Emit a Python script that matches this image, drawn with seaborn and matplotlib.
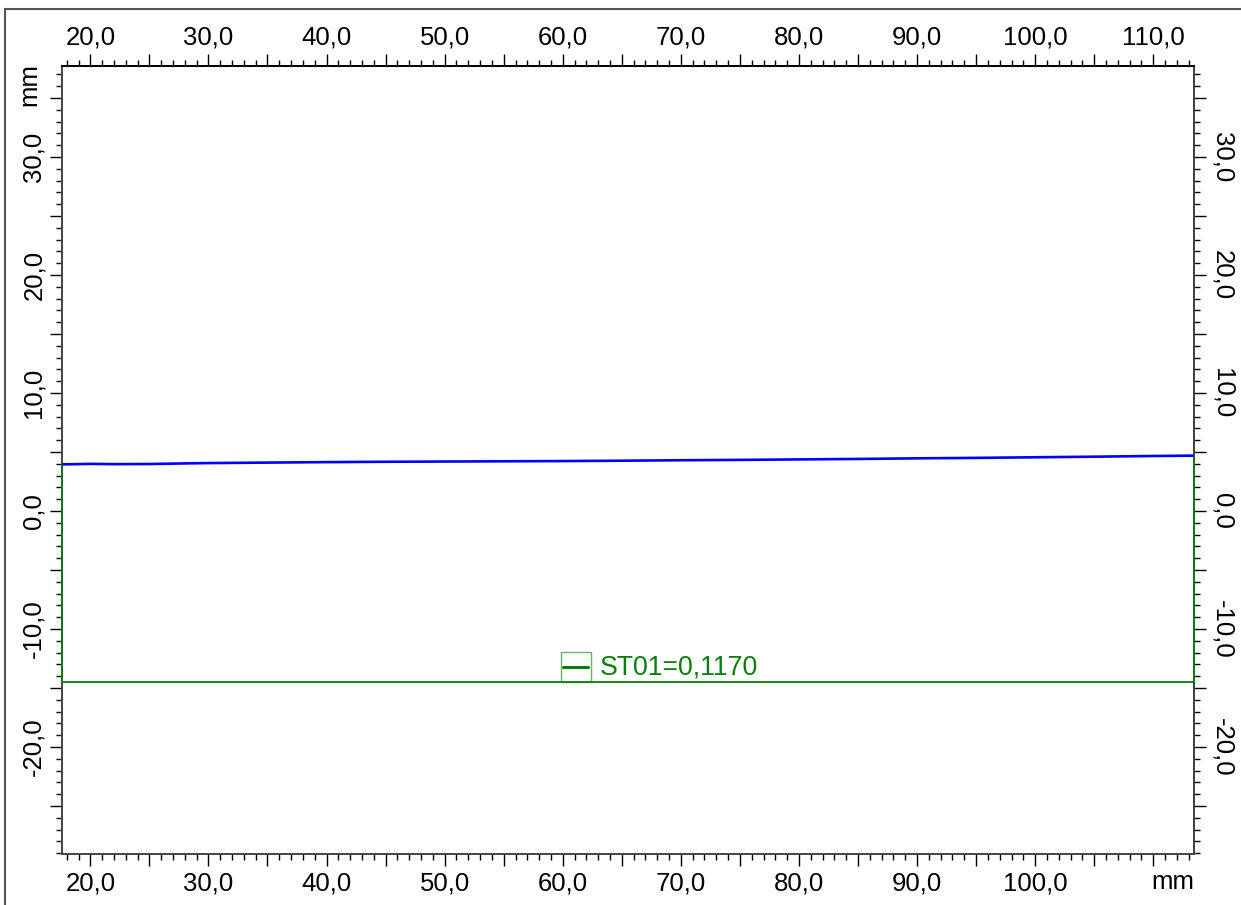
import matplotlib
matplotlib.use("Agg")
import matplotlib.pyplot as plt
from matplotlib.ticker import MultipleLocator, FuncFormatter
from matplotlib.patches import Rectangle
import seaborn as sns
import pandas as pd

# Measured profile (mm)
profile_x = [17.6, 20.0, 22.0, 25.0, 28.0, 30.0, 35.0, 40.0, 45.0, 50.0, 55.0,
             60.0, 65.0, 70.0, 75.0, 80.0, 85.0, 90.0, 95.0, 100.0, 105.0, 110.0, 113.45]
profile_y = [3.95, 3.99, 3.97, 3.98, 4.03, 4.06, 4.10, 4.14, 4.17, 4.19, 4.21,
             4.23, 4.26, 4.30, 4.33, 4.37, 4.41, 4.46, 4.50, 4.55, 4.60, 4.66, 4.69]

# Reference baseline of the evaluation window
baseline_level = -14.47
x_min, x_max = 17.6, 113.45
y_min, y_max = -29.07, 37.71

legend_label = "ST01=0,1170"

sns.set_style("white")
plt.rcParams["font.family"] = ["Liberation Sans", "DejaVu Sans"]
plt.rcParams["text.color"] = "black"
plt.rcParams["xtick.color"] = "black"
plt.rcParams["ytick.color"] = "black"
plt.rcParams["xtick.labelcolor"] = "black"
plt.rcParams["ytick.labelcolor"] = "black"

FONT = 18.5
BLUE = "#0000ff"
GREEN = "#0a7d0a"

fig = plt.figure(figsize=(12.41, 9.05), dpi=100)
ax = fig.add_axes([62 / 1241, 1 - 854 / 905, (1194 - 62) / 1241, (854 - 66) / 905])

df = pd.DataFrame({"x": profile_x, "y": profile_y})
sns.lineplot(data=df, x="x", y="y", ax=ax, color=BLUE, linewidth=1.9,
             sort=False, estimator=None, zorder=4)

# Evaluation window: edges drop to the baseline and run across it
win = pd.DataFrame({
    "x": [profile_x[0], profile_x[0], profile_x[-1], profile_x[-1]],
    "y": [profile_y[0], baseline_level, baseline_level, profile_y[-1]],
})
sns.lineplot(data=win, x="x", y="y", ax=ax, color=GREEN, linewidth=1.3,
             sort=False, estimator=None, zorder=3, clip_on=False)

# Legend entry sitting on the baseline
box_x0, box_x1 = 59.83, 62.37
box_y0, box_y1 = baseline_level, -11.92
ax.add_patch(Rectangle((box_x0, box_y0), box_x1 - box_x0, box_y1 - box_y0,
                       fill=False, edgecolor="#6ab46a", linewidth=1.0))
leg_line = pd.DataFrame({"x": [box_x0 + 0.2, box_x1 - 0.2],
                         "y": [(box_y0 + box_y1) / 2] * 2})
sns.lineplot(data=leg_line, x="x", y="y", ax=ax, color=GREEN, linewidth=2.2,
             sort=False, estimator=None)
ax.text(box_x1 + 0.8, (box_y0 + box_y1) / 2 - 0.1, legend_label, color=GREEN,
        fontsize=19.2, ha="left", va="center")

ax.set_xlim(x_min, x_max)
ax.set_ylim(y_min, y_max)
ax.set_xlabel("")
ax.set_ylabel("")


def fmt(v, _pos=None):
    if abs(v - round(v / 10) * 10) > 1e-6:
        return ""
    return f"{v:.1f}".replace(".", ",")


def fmt_bottom(v, pos=None):
    if abs(v - 110) < 1e-6:
        return ""
    return fmt(v, pos)


tick_kw = dict(color="black", width=1.0)
MAJ = 12 * 0.72
MIN = 6 * 0.72


def style_axis(axis, formatter):
    axis.set_major_locator(MultipleLocator(5))
    axis.set_minor_locator(MultipleLocator(1))
    axis.set_major_formatter(FuncFormatter(formatter))


style_axis(ax.xaxis, fmt_bottom)
style_axis(ax.yaxis, fmt)
ax.tick_params(which="major", direction="out", length=MAJ, pad=4,
               labelsize=FONT, bottom=True, left=True, top=False, right=False,
               **tick_kw)
ax.tick_params(which="minor", direction="out", length=MIN,
               bottom=True, left=True, top=False, right=False, **tick_kw)
ax.tick_params(axis="y", which="major", pad=3)
for lab in ax.get_yticklabels():
    lab.set_rotation(90)
    lab.set_va("center")

sec_x = ax.secondary_xaxis("top")
style_axis(sec_x.xaxis, fmt)
sec_x.tick_params(which="major", direction="out", length=MAJ, pad=3,
                  labelsize=FONT, **tick_kw)
sec_x.tick_params(which="minor", direction="out", length=MIN, **tick_kw)

sec_y = ax.secondary_yaxis("right")
style_axis(sec_y.yaxis, fmt)
sec_y.tick_params(which="major", direction="out", length=MAJ, pad=3,
                  labelsize=FONT, labelrotation=-90, **tick_kw)
sec_y.tick_params(which="minor", direction="out", length=MIN, **tick_kw)
for lab in sec_y.get_yticklabels():
    lab.set_va("center")

for a in (ax, sec_x, sec_y):
    for sp in a.spines.values():
        sp.set_color("#444444")
        sp.set_linewidth(1.4)
ax.spines["top"].set_color("black")

# Unit labels
ax.text(1.0, -0.0205, "mm", transform=ax.transAxes,
        ha="right", va="top", fontsize=FONT)
ax.text(-0.0185, 36.1, "mm", transform=ax.get_yaxis_transform(), rotation=90,
        ha="right", va="center", fontsize=FONT)

# Outer page frame
fig.add_artist(Rectangle((5 / 1241, -0.1), 1.2, 1 - 9 / 905 + 0.1,
                         transform=fig.transFigure, fill=False,
                         edgecolor="#555555", linewidth=1.5))

fig.savefig("out.png", dpi=100)
